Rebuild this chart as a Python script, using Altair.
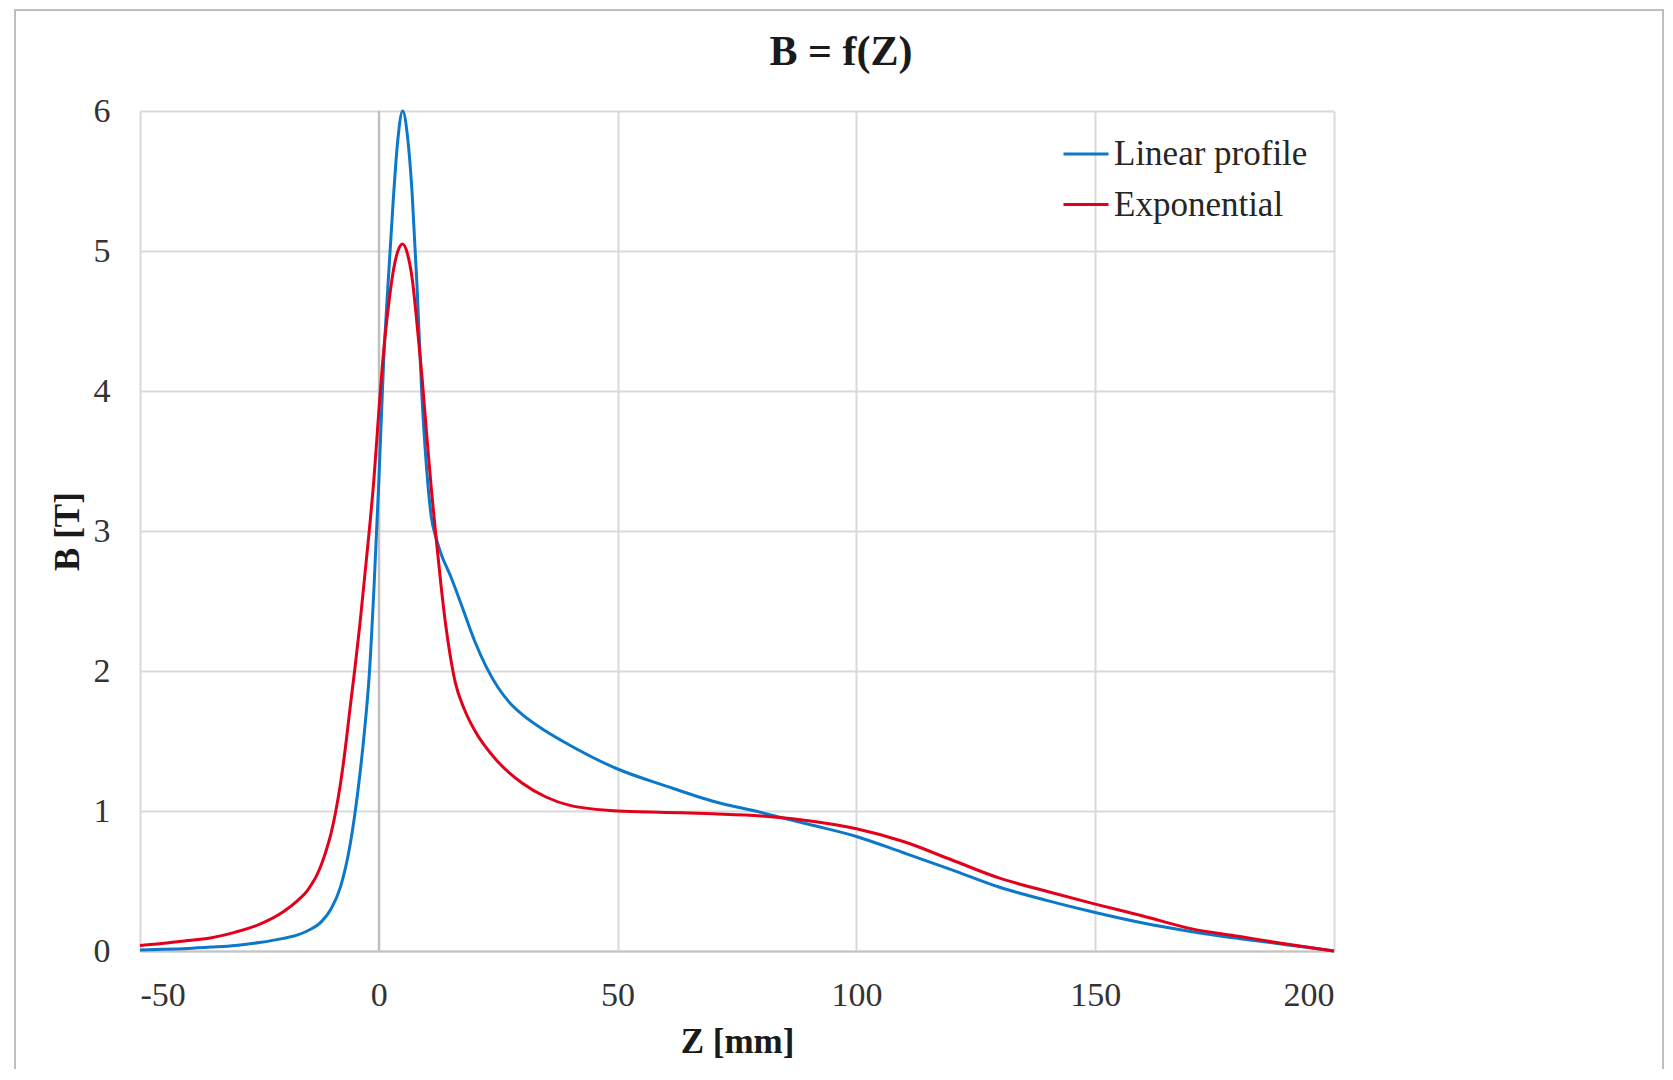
import altair as alt
import pandas as pd

# ---------------- data ----------------
series_names = ["Linear profile", "Exponential"]
series_colors = ["#0B78C9", "#E2001A"]

z_lin = [-50, -45, -40, -35, -30, -25, -20, -17, -15, -12, -10, -8, -6, -5, -4, -3, -2, -1,
         0, 1, 2, 3, 4, 5, 6, 7, 8, 9, 10, 11, 12, 13, 15, 17, 20, 22.5, 25, 27.5, 30, 35, 40,
         50, 60, 70, 80, 90, 100, 110, 120, 130, 140, 150, 160, 170, 180, 190, 200]
b_lin = [0.008, 0.012, 0.018, 0.028, 0.04, 0.06, 0.09, 0.115, 0.143, 0.21, 0.30, 0.46, 0.76, 0.98, 1.25, 1.57, 1.97, 2.6,
         3.35, 4.2, 4.8, 5.35, 5.8, 6.0, 5.82, 5.4, 4.75, 3.98, 3.45, 3.1, 2.95, 2.84, 2.68, 2.5, 2.22, 2.03, 1.88, 1.77, 1.69, 1.57, 1.47,
         1.30, 1.18, 1.07, 0.99, 0.905, 0.818, 0.70, 0.58, 0.455, 0.36, 0.275, 0.2, 0.14, 0.09, 0.045, 0.0]

z_exp = [-50, -45, -40, -35, -30, -25, -20, -17, -15, -14, -13, -12, -11, -10, -9, -8, -7, -6, -5, -4, -3, -2, -1,
         0, 1, 2, 3, 4, 5, 6, 7, 8, 9, 10, 11, 12, 13, 14, 15, 16, 18, 20, 25, 30, 35, 40,
         50, 60, 70, 80, 90, 100, 110, 120, 130, 140, 150, 160, 170, 180, 190, 200]
b_exp = [0.04, 0.055, 0.075, 0.095, 0.135, 0.19, 0.28, 0.36, 0.43, 0.48, 0.54, 0.62, 0.72, 0.84, 1.0, 1.2, 1.45, 1.74, 2.02, 2.32, 2.66, 3.0, 3.38,
         3.85, 4.28, 4.6, 4.85, 5.0, 5.05, 4.98, 4.8, 4.48, 4.12, 3.7, 3.3, 2.95, 2.62, 2.33, 2.1, 1.92, 1.72, 1.58, 1.35, 1.2, 1.1, 1.04,
         1.0, 0.99, 0.98, 0.965, 0.93, 0.873, 0.78, 0.65, 0.52, 0.425, 0.335, 0.25, 0.16, 0.105, 0.05, 0.0]

x_ticks = [-50, 0, 50, 100, 150, 200]
y_ticks = [0, 1, 2, 3, 4, 5, 6]

title_text = "B = f(Z)"
x_title = "Z [mm]"
y_title = "B [T]"

# ---------------- build table ----------------
df = pd.concat([
    pd.DataFrame({"Z": z_lin, "B": b_lin, "series": series_names[0]}),
    pd.DataFrame({"Z": z_exp, "B": b_exp, "series": series_names[1]}),
], ignore_index=True)

W, H = 1194, 840
FONT = "Liberation Serif"

x_scale = alt.Scale(domain=[-50, 200], nice=False, zero=False)
y_scale = alt.Scale(domain=[0, 6], nice=False)

x_enc = alt.X(
    "Z:Q", scale=x_scale,
    axis=alt.Axis(
        values=x_ticks, title=x_title, labelExpr="'' + datum.value",
        labelFont=FONT, labelFontSize=34, labelColor="#333333",
        ticks=False, tickSize=0, labelPadding=27,
        domain=True, domainColor="#C4C4C4", domainWidth=2,
        grid=True, gridColor="#D9D9D9", gridWidth=2,
        titleFont=FONT, titleFontSize=35, titleFontWeight="bold", titleColor="#1A1A1A",
        titleX=W / 2, titleY=101, titleBaseline="alphabetic", titleAlign="center",
    ),
)
y_enc = alt.Y(
    "B:Q", scale=y_scale,
    axis=alt.Axis(
        values=y_ticks, title=y_title, labelExpr="'' + datum.value",
        labelFont=FONT, labelFontSize=34, labelColor="#333333",
        ticks=False, tickSize=0, labelPadding=30,
        domain=False,
        grid=True, gridColor="#D9D9D9", gridWidth=2,
        titleFont=FONT, titleFontSize=35, titleFontWeight="bold", titleColor="#1A1A1A",
        titleAngle=270, titleX=-73, titleY=H / 2, titleBaseline="middle", titleAlign="center",
    ),
)

color_enc = alt.Color(
    "series:N",
    scale=alt.Scale(domain=series_names, range=series_colors),
    sort=series_names,
    legend=alt.Legend(
        title=None, orient="none", legendX=922, legendY=19,
        symbolType="stroke", symbolSize=2025, symbolStrokeWidth=3,
        labelFont=FONT, labelFontSize=35, labelColor="#262626",
        labelOffset=4, rowPadding=8.5, padding=0, labelLimit=400,
    ),
)

base = alt.Chart(df)

frame = alt.Chart(pd.DataFrame({"k": [0]})).mark_rect(
    fill="transparent", stroke="#BFBFBF", strokeWidth=2
).encode(
    x=alt.value(-125), x2=alt.value(1523), y=alt.value(-101), y2=alt.value(990)
)

zero_rule = alt.Chart(pd.DataFrame({"k": [0]})).mark_rule(
    color="#BDBDBD", strokeWidth=2
).encode(x=alt.X(datum=0, type="quantitative", scale=x_scale))

line_lin = base.transform_filter(alt.datum.series == series_names[0]).mark_line(
    strokeWidth=3, interpolate="monotone"
).encode(x=x_enc, y=y_enc, color=color_enc)

line_exp = base.transform_filter(alt.datum.series == series_names[1]).mark_line(
    strokeWidth=3, interpolate="monotone"
).encode(x=x_enc, y=y_enc, color=color_enc)

title_mark = alt.Chart(pd.DataFrame({"t": [title_text]})).mark_text(
    font=FONT, fontSize=42, fontWeight="bold", color="#1A1A1A",
    align="center", baseline="alphabetic"
).encode(text="t:N", x=alt.value(701), y=alt.value(-46))

chart = alt.layer(frame, zero_rule, line_lin, line_exp, title_mark).properties(
    width=W, height=H,
    autosize=alt.AutoSizeParams(type="none"),
    padding={"left": 132, "top": 103, "right": 331, "bottom": 118},
    background="white",
).configure_view(stroke="transparent")

chart.save("out.html", embed_options={"renderer": "svg", "actions": False})
